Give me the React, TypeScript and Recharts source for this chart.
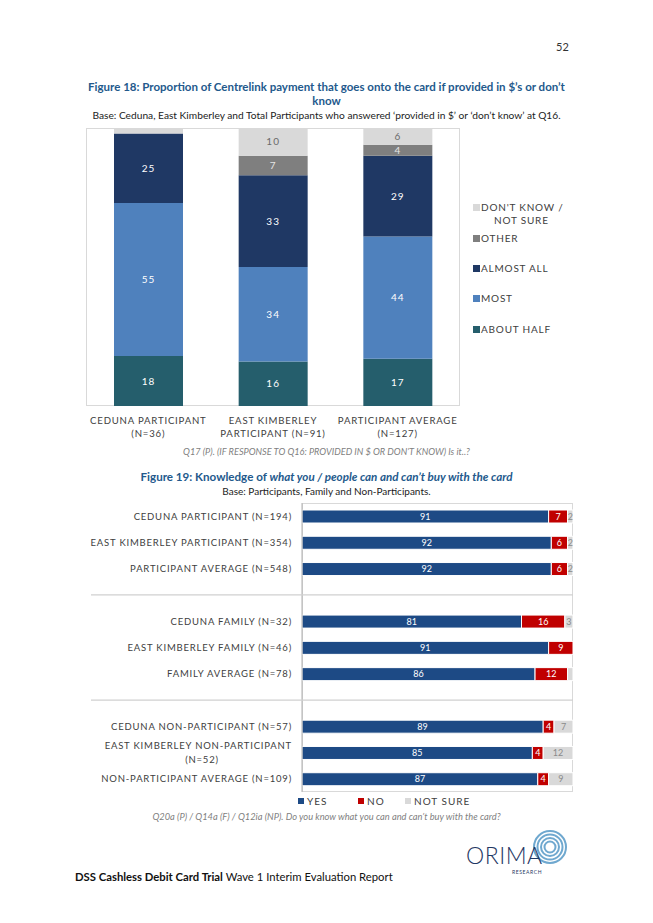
import React from "react";
import { BarChart, Bar, XAxis, YAxis, LabelList } from "recharts";

// Figure 18 – proportion of payment on card
const fig18Groups = [
  ["CEDUNA PARTICIPANT", "(N=36)"],
  ["EAST KIMBERLEY", "PARTICIPANT (N=91)"],
  ["PARTICIPANT AVERAGE", "(N=127)"],
];
const aboutHalf = [18, 16, 17];
const most = [55, 34, 44];
const almostAll = [25, 33, 29];
const other = [0, 7, 4];
const dontKnow = [2, 10, 6];

// Figure 19 – knowledge of what can be bought (empty rows are group separators)
const fig19Rows = [
  ["CEDUNA PARTICIPANT (N=194)"],
  ["EAST KIMBERLEY PARTICIPANT (N=354)"],
  ["PARTICIPANT AVERAGE (N=548)"],
  [],
  ["CEDUNA FAMILY (N=32)"],
  ["EAST KIMBERLEY FAMILY (N=46)"],
  ["FAMILY AVERAGE (N=78)"],
  [],
  ["CEDUNA NON-PARTICIPANT (N=57)"],
  ["EAST KIMBERLEY NON-PARTICIPANT", "(N=52)"],
  ["NON-PARTICIPANT AVERAGE (N=109)"],
];
const yes = [91, 92, 92, null, 81, 91, 86, null, 89, 85, 87];
const no = [7, 6, 6, null, 16, 9, 12, null, 4, 4, 4];
const notSure = [2, 2, 2, null, 3, 0, 2, null, 7, 12, 9];
const notSureUnlabelled = [6];

const FONT = "Lato, 'Open Sans', sans-serif";
const AXIS_GREY = "#404040";

const C = {
  dontKnow: "#d9d9d9",
  other: "#7f7f7f",
  almostAll: "#1f3864",
  most: "#4f81bd",
  aboutHalf: "#255e6c",
  yes: "#1d4a85",
  no: "#c00000",
  notSure: "#d9d9d9",
  title: "#23598c",
};

const fig18Data = fig18Groups.map((g, i) => ({
  name: g.join(" "),
  aboutHalf: aboutHalf[i],
  most: most[i],
  almostAll: almostAll[i],
  other: other[i],
  dontKnow: dontKnow[i],
}));

const fig19Data = fig19Rows.map((_, i) => ({
  name: `r${i}`,
  yes: yes[i],
  no: no[i],
  notSure: notSure[i],
  nsLabel:
    notSure[i] && !notSureUnlabelled.includes(i) ? String(notSure[i]) : "",
}));

function Txt({ x, y, center, children, style }: any) {
  const base: React.CSSProperties = {
    position: "absolute",
    top: y,
    transform: "translateY(-50%)",
    lineHeight: 1,
    whiteSpace: "nowrap",
    fontFamily: FONT,
  };
  if (center) {
    base.left = 0;
    base.width = 653;
    base.textAlign = "center";
  } else {
    base.left = x;
  }
  return <div style={{ ...base, ...style }}>{children}</div>;
}

function Fig18Tick({ x, y, index }: any) {
  const lines = fig18Groups[index] || [];
  return (
    <g>
      {lines.map((l, k) => (
        <text
          key={k}
          x={x}
          y={y + 6 + k * 13}
          textAnchor="middle"
          dominantBaseline="central"
          fontFamily={FONT}
          fontSize={9.6}
          letterSpacing={0.8}
          fill={AXIS_GREY}
        >
          {l}
        </text>
      ))}
    </g>
  );
}

function Fig19Tick({ x, y, index }: any) {
  const lines = fig19Rows[index] || [];
  if (lines.length === 0) {
    return <line x1={91} x2={573} y1={y} y2={y} stroke="#d0d0d0" strokeWidth={1.2} />;
  }
  const start = lines.length === 1 ? 0 : -7;
  return (
    <g>
      {lines.map((l, k) => (
        <text
          key={k}
          x={lines.length === 1 || k === 0 ? x - 2 : x - 2 - 90}
          y={y + start + k * 14}
          textAnchor={lines.length === 1 || k === 0 ? "end" : "middle"}
          dominantBaseline="central"
          fontFamily={FONT}
          fontSize={9.5}
          letterSpacing={0.8}
          fill={AXIS_GREY}
        >
          {l}
        </text>
      ))}
    </g>
  );
}

const legend18 = [
  { key: "dontKnow", label: ["DON'T KNOW /", "NOT SURE"], y: 207 },
  { key: "other", label: ["OTHER"], y: 238 },
  { key: "almostAll", label: ["ALMOST ALL"], y: 268 },
  { key: "most", label: ["MOST"], y: 298 },
  { key: "aboutHalf", label: ["ABOUT HALF"], y: 329 },
];

const legend19 = [
  { key: "yes", label: "YES", x: 298 },
  { key: "no", label: "NO", x: 358 },
  { key: "notSure", label: "NOT SURE", x: 405 },
];

function OrimaLogo() {
  return (
    <svg width={110} height={50} style={{ position: "absolute", left: 462, top: 828 }}>
      {[16, 12.5, 9, 5.5].map((r, i) => (
        <circle key={i} cx={88} cy={19} r={r} fill="none" stroke="#6fa8cf" strokeWidth={2} />
      ))}
      <text x={4} y={36} fontFamily={FONT} fontSize={23} fontWeight={300} fill="#1f3864" letterSpacing={0.5}>
        ORIMA
      </text>
      <text x={50} y={46} fontFamily={FONT} fontSize={5} fill="#1f3864" letterSpacing={0.6}>
        RESEARCH
      </text>
    </svg>
  );
}

export default function App() {
  const labelWhite = { fill: "#ffffff", fontSize: 10, fontFamily: FONT, letterSpacing: 1 };
  const label19 = { fill: "#ffffff", fontSize: 9, fontFamily: FONT };
  return (
    <div
      style={{
        position: "absolute",
        left: 0,
        top: 0,
        width: 653,
        height: 923,
        background: "#fff",
        fontFamily: FONT,
        overflow: "hidden",
      }}
    >
      <Txt x={556} y={46} style={{ fontSize: 11, color: "#333" }}>52</Txt>

      <Txt center y={87} style={{ fontSize: 11.5, fontWeight: 700, color: C.title }}>
        Figure 18: Proportion of Centrelink payment that goes onto the card if provided in $’s or don’t
      </Txt>
      <Txt center y={101} style={{ fontSize: 11.5, fontWeight: 700, color: C.title }}>know</Txt>
      <Txt center y={115} style={{ fontSize: 10.2, color: "#222" }}>
        Base: Ceduna, East Kimberley and Total Participants who answered ‘provided in $’ or ‘don’t know’ at Q16.
      </Txt>

      {/* Figure 18 chart */}
      <div
        style={{
          position: "absolute",
          left: 86,
          top: 128,
          width: 374,
          height: 278,
          border: "1px solid #d9d9d9",
          boxSizing: "border-box",
        }}
      />
      <div style={{ position: "absolute", left: 0, top: 120 }}>
        <BarChart
          width={653}
          height={330}
          data={fig18Data}
          margin={{ top: 8, right: 193, bottom: 0, left: 86 }}
        >
          <XAxis
            dataKey="name"
            axisLine={false}
            tickLine={false}
            interval={0}
            height={44}
            tick={<Fig18Tick />}
          />
          <YAxis hide domain={[0, 100]} />
          <Bar dataKey="aboutHalf" stackId="a" fill={C.aboutHalf} barSize={69} isAnimationActive={false}>
            <LabelList dataKey="aboutHalf" position="center" {...labelWhite} />
          </Bar>
          <Bar dataKey="most" stackId="a" fill={C.most} barSize={69} isAnimationActive={false}>
            <LabelList dataKey="most" position="center" {...labelWhite} />
          </Bar>
          <Bar dataKey="almostAll" stackId="a" fill={C.almostAll} barSize={69} isAnimationActive={false}>
            <LabelList dataKey="almostAll" position="center" {...labelWhite} />
          </Bar>
          <Bar dataKey="other" stackId="a" fill={C.other} barSize={69} isAnimationActive={false}>
            <LabelList
              dataKey="other"
              position="center"
              {...labelWhite}
              fill="#e6e6e6"
              formatter={(v: any) => (v >= 3 ? v : "")}
            />
          </Bar>
          <Bar dataKey="dontKnow" stackId="a" fill={C.dontKnow} barSize={69} isAnimationActive={false}>
            <LabelList
              dataKey="dontKnow"
              position="center"
              {...labelWhite}
              fill="#6b6b6b"
              formatter={(v: any) => (v >= 3 ? v : "")}
            />
          </Bar>
        </BarChart>
      </div>

      {legend18.map((it) => (
        <div key={it.key}>
          <div
            style={{
              position: "absolute",
              left: 473,
              top: it.y - 3.5,
              width: 7,
              height: 7,
              background: (C as any)[it.key],
            }}
          />
          {it.label.map((l, k) => (
            <Txt
              key={k}
              x={k === 0 ? 481 : 494}
              y={it.y + k * 13}
              style={{ fontSize: 10, letterSpacing: 0.8, color: AXIS_GREY }}
            >
              {l}
            </Txt>
          ))}
        </div>
      ))}

      <Txt center y={452} style={{ fontSize: 9.2, fontStyle: "italic", color: "#7f7f7f" }}>
        Q17 (P). (IF RESPONSE TO Q16: PROVIDED IN $ OR DON’T KNOW) Is it..?
      </Txt>

      <Txt center y={477} style={{ fontSize: 11.6, fontWeight: 700, color: C.title }}>
        Figure 19: Knowledge of <i>what you / people can and can’t buy with the card</i>
      </Txt>
      <Txt center y={491} style={{ fontSize: 10, color: "#222" }}>
        Base: Participants, Family and Non-Participants.
      </Txt>

      {/* Figure 19 chart */}
      <div
        style={{
          position: "absolute",
          left: 302,
          top: 503,
          width: 271,
          height: 289,
          border: "1px solid #d9d9d9",
          boxSizing: "border-box",
        }}
      />
      <div style={{ position: "absolute", left: 0, top: 495 }}>
        <BarChart
          width={653}
          height={300}
          layout="vertical"
          data={fig19Data}
          margin={{ top: 8, right: 80, bottom: 3, left: 2 }}
        >
          <XAxis type="number" hide domain={[0, 100]} allowDataOverflow />
          <YAxis
            type="category"
            dataKey="name"
            width={300}
            interval={0}
            tickLine={false}
            axisLine={{ stroke: "#b0b0b0" }}
            tick={<Fig19Tick />}
          />
          <Bar dataKey="yes" stackId="k" fill={C.yes} stroke="#fff" strokeWidth={1} barSize={13} isAnimationActive={false}>
            <LabelList dataKey="yes" position="center" {...label19} />
          </Bar>
          <Bar dataKey="no" stackId="k" fill={C.no} stroke="#fff" strokeWidth={1} barSize={13} isAnimationActive={false}>
            <LabelList dataKey="no" position="center" {...label19} />
          </Bar>
          <Bar dataKey="notSure" stackId="k" fill={C.notSure} stroke="#fff" strokeWidth={1} barSize={13} isAnimationActive={false}>
            <LabelList dataKey="nsLabel" position="center" {...label19} fill="#8a8a8a" />
          </Bar>
        </BarChart>
      </div>

      {legend19.map((it) => (
        <div key={it.key}>
          <div
            style={{
              position: "absolute",
              left: it.x,
              top: 801 - 3,
              width: 6,
              height: 6,
              background: (C as any)[it.key],
            }}
          />
          <Txt x={it.x + 9} y={801} style={{ fontSize: 10, letterSpacing: 1, color: AXIS_GREY }}>
            {it.label}
          </Txt>
        </div>
      ))}

      <Txt center y={817} style={{ fontSize: 9.3, fontStyle: "italic", color: "#7f7f7f" }}>
        Q20a (P) / Q14a (F) / Q12ia (NP). Do you know what you can and can’t buy with the card?
      </Txt>

      <Txt x={75} y={877} style={{ fontSize: 11.3, color: "#111" }}>
        <b>DSS Cashless Debit Card Trial</b> Wave 1 Interim Evaluation Report
      </Txt>
      <OrimaLogo />
    </div>
  );
}
